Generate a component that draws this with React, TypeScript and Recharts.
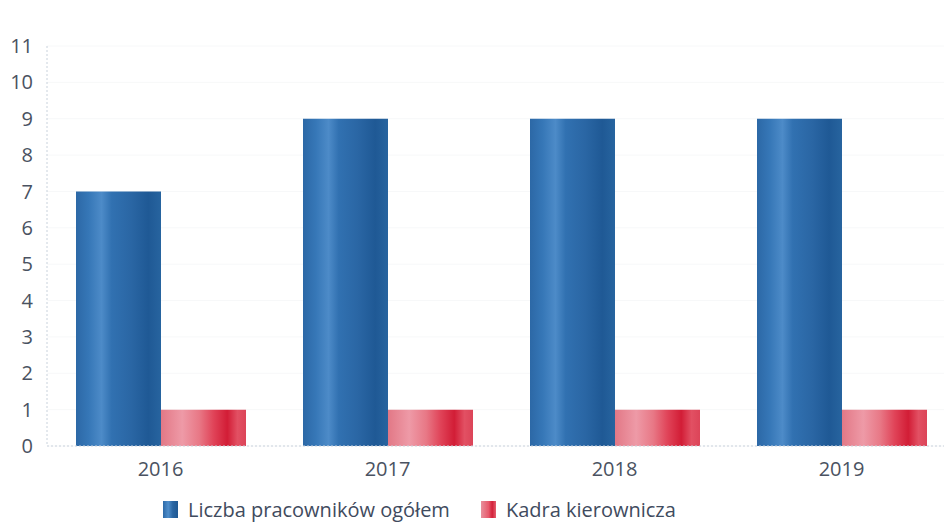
import React from "react"
import { BarChart, Bar, XAxis, YAxis, CartesianGrid, Legend } from "recharts"

// ── data ──────────────────────────────────────────────
const years = ["2016", "2017", "2018", "2019"]
const totalStaff = [7, 9, 9, 9]
const managers = [1, 1, 1, 1]
const yTicks = [0, 1, 2, 3, 4, 5, 6, 7, 8, 9, 10, 11]

const SERIES = [
  { key: "total", name: "Liczba pracowników ogółem", fill: "url(#blueBar)" },
  { key: "managers", name: "Kadra kierownicza", fill: "url(#redBar)" },
]

const data = years.map((year, i) => ({ year, total: totalStaff[i], managers: managers[i] }))

const FONT = "'Open Sans', 'Noto Sans', sans-serif"
const TEXT = "#4a5261"

function LegendBox() {
  return (
    <div style={{ display: "flex", alignItems: "center", fontFamily: FONT, fontSize: 20, color: "#3f4b5e" }}>
      {SERIES.map((s) => (
        <div key={s.key} style={{ display: "flex", alignItems: "center", marginRight: 31 }}>
          <span
            style={{
              display: "inline-block",
              width: 15,
              height: 17,
              marginRight: 10,
              background:
                s.key === "total"
                  ? "linear-gradient(90deg,#2d6aa8,#4f8ecb 35%,#2a66a3 65%,#1f5893)"
                  : "linear-gradient(90deg,#e8909c,#e75a6c 50%,#d3213a 75%,#e4606f)",
            }}
          />
          {s.name}
        </div>
      ))}
    </div>
  )
}

export default function App() {
  return (
    <div style={{ position: "fixed", left: 0, top: 0, width: 944, height: 522, overflow: "hidden", background: "#fff" }}>
      <BarChart
        width={960}
        height={522}
        data={data}
        margin={{ top: 46, right: 5, left: 0, bottom: 0 }}
        barGap={0}
        barCategoryGap={28}
      >
        <defs>
          <linearGradient id="blueBar" x1="0" y1="0" x2="1" y2="0">
            <stop offset="0%" stopColor="#2c68a6" />
            <stop offset="15%" stopColor="#3677b7" />
            <stop offset="30%" stopColor="#4d8bc8" />
            <stop offset="42%" stopColor="#3171b1" />
            <stop offset="65%" stopColor="#2a66a4" />
            <stop offset="85%" stopColor="#1f5995" />
            <stop offset="100%" stopColor="#27649f" />
          </linearGradient>
          <linearGradient id="redBar" x1="0" y1="0" x2="1" y2="0">
            <stop offset="0%" stopColor="#e27886" />
            <stop offset="25%" stopColor="#ee9aa7" />
            <stop offset="45%" stopColor="#e87886" />
            <stop offset="62%" stopColor="#e04358" />
            <stop offset="78%" stopColor="#d21d36" />
            <stop offset="90%" stopColor="#e25063" />
            <stop offset="100%" stopColor="#dc4458" />
          </linearGradient>
        </defs>
        <CartesianGrid vertical={false} stroke="#f7f8f9" />
        <XAxis
          dataKey="year"
          height={30}
          tickLine={false}
          tickMargin={10}
          axisLine={{ stroke: "#c9d2dc", strokeDasharray: "2 2" }}
          tick={{ fill: TEXT, fontSize: 20, fontFamily: FONT }}
        />
        <YAxis
          width={47}
          domain={[0, 11]}
          ticks={yTicks}
          interval={0}
          tickLine={false}
          tickMargin={8}
          axisLine={{ stroke: "#c9d2dc", strokeDasharray: "2 2" }}
          tick={{ fill: TEXT, fontSize: 20, fontFamily: FONT }}
        />
        <Legend
          verticalAlign="bottom"
          content={() => <LegendBox />}
          wrapperStyle={{ top: 496, left: 163, width: 700, height: 46 }}
        />
        {SERIES.map((s) => (
          <Bar key={s.key} dataKey={s.key} name={s.name} fill={s.fill} barSize={85} isAnimationActive={false} />
        ))}
      </BarChart>
    </div>
  )
}
